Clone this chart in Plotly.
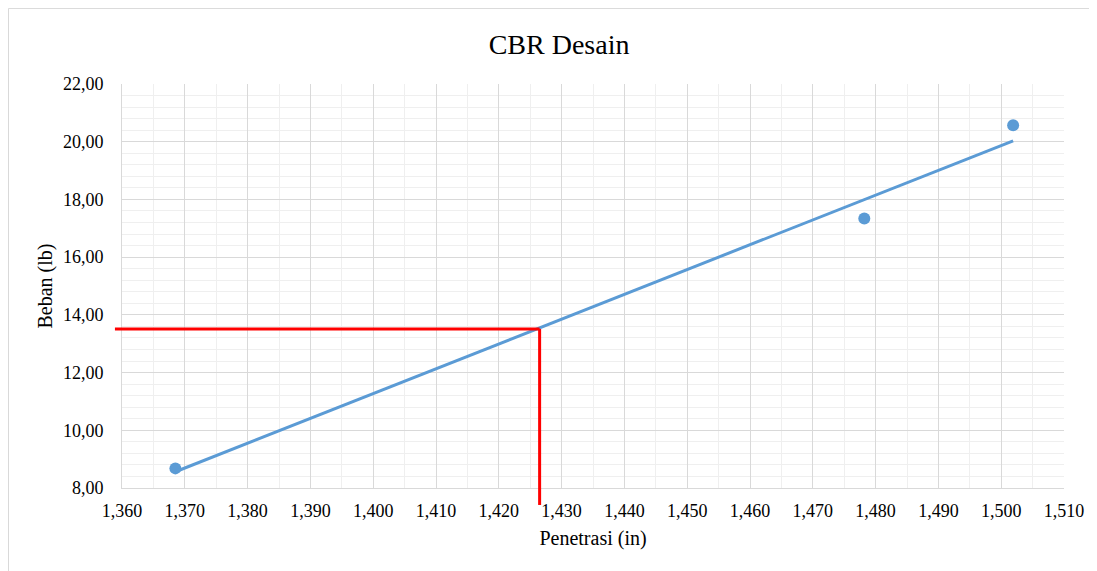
import numpy as np
import plotly.graph_objects as go

# data
penetrasi = [1.3685, 1.4782, 1.5019]
beban = [8.68, 17.34, 20.57]

# design values marked by the red lines
cbr_x = 1.4265
cbr_y = 13.51

x_range = [1.36, 1.51]
y_range = [8, 22]

blue = "#5B9BD5"
red = "#FF0000"
font = "Liberation Serif, Times New Roman, serif"

# linear trendline (like Excel's)
slope, icpt = np.polyfit(penetrasi, beban, 1)
trend_x = [min(penetrasi), max(penetrasi)]
trend_y = [slope * v + icpt for v in trend_x]

fig = go.Figure()
fig.add_trace(go.Scatter(x=penetrasi, y=beban, mode="markers",
                         marker=dict(color=blue, size=12), showlegend=False))
fig.add_trace(go.Scatter(x=trend_x, y=trend_y, mode="lines",
                         line=dict(color=blue, width=3), showlegend=False))

px_x = (cbr_x - x_range[0]) / (x_range[1] - x_range[0])
px_y = (cbr_y - y_range[0]) / (y_range[1] - y_range[0])

fig.add_shape(type="line", xref="paper", yref="y", x0=-0.0075, x1=px_x,
              y0=cbr_y, y1=cbr_y, line=dict(color=red, width=3))
fig.add_shape(type="line", xref="x", yref="paper", x0=cbr_x, x1=cbr_x,
              y0=px_y, y1=-0.042, line=dict(color=red, width=3))
# chart border
fig.add_shape(type="rect", xref="paper", yref="paper", x0=-0.1205, x1=1.06,
              y0=-0.3, y1=1.187, line=dict(color="#d9d9d9", width=1))

fig.update_layout(
    width=1089, height=563,
    margin=dict(l=114, r=33, t=76, b=83),
    paper_bgcolor="white", plot_bgcolor="white",
    separators=",.",
    font=dict(family=font, size=18, color="#000000"),
    title=dict(text="CBR Desain", x=0.506, xanchor="center",
               y=0.936, yanchor="middle",
               font=dict(size=28, family=font)),
)
fig.update_xaxes(
    range=x_range, dtick=0.01, tickformat=".3f",
    showgrid=True, gridcolor="#d9d9d9", gridwidth=1,
    minor=dict(dtick=0.005, showgrid=True, gridcolor="#efefef"),
    showline=True, linecolor="#d9d9d9", zeroline=False,
    ticklabelstandoff=6,
    title=dict(text="Penetrasi (in)", standoff=11, font=dict(size=20)),
)
fig.update_yaxes(
    range=y_range, dtick=2, tickformat=".2f",
    showgrid=True, gridcolor="#d9d9d9", gridwidth=1,
    minor=dict(dtick=0.4, showgrid=True, gridcolor="#efefef"),
    showline=True, linecolor="#d9d9d9", zeroline=False,
    ticklabelstandoff=14,
    title=dict(text="Beban (lb)", standoff=4, font=dict(size=20)),
)

fig.write_html("out.html")
